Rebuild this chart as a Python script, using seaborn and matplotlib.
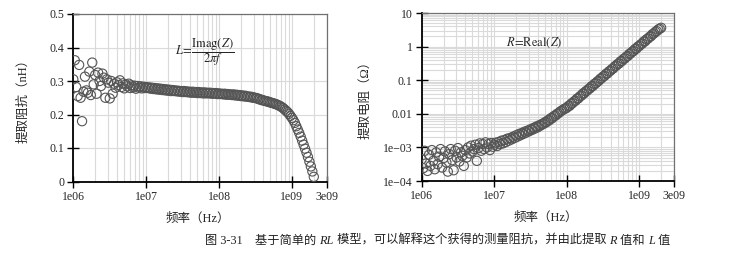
import numpy as np
import pandas as pd
import matplotlib
matplotlib.use('Agg')
import matplotlib.pyplot as plt
import seaborn as sns
from matplotlib.ticker import FixedLocator, FixedFormatter, LogLocator, NullFormatter

sns.set_style('white')
plt.rcParams['font.family'] = ['Liberation Serif', 'Noto Sans CJK SC']
plt.rcParams['mathtext.fontset'] = 'stix'

# ---- data ----
log_freq = [
    6.00, 6.02, 6.04, 6.06, 6.08, 6.10, 6.12, 6.14, 6.16, 6.18,
    6.20, 6.22, 6.24, 6.26, 6.28, 6.30, 6.32, 6.34, 6.36, 6.38,
    6.40, 6.42, 6.44, 6.46, 6.48, 6.50, 6.52, 6.54, 6.56, 6.58,
    6.60, 6.62, 6.64, 6.66, 6.68, 6.70, 6.72, 6.74, 6.76, 6.78,
    6.80, 6.82, 6.84, 6.86, 6.88, 6.90, 6.92, 6.94, 6.96, 6.98,
    7.00, 7.02, 7.04, 7.06, 7.08, 7.10, 7.12, 7.14, 7.16, 7.18,
    7.20, 7.22, 7.24, 7.26, 7.28, 7.30, 7.32, 7.34, 7.36, 7.38,
    7.40, 7.42, 7.44, 7.46, 7.48, 7.50, 7.52, 7.54, 7.56, 7.58,
    7.60, 7.62, 7.64, 7.66, 7.68, 7.70, 7.72, 7.74, 7.76, 7.78,
    7.80, 7.82, 7.84, 7.86, 7.88, 7.90, 7.92, 7.94, 7.96, 7.98,
    8.00, 8.02, 8.04, 8.06, 8.08, 8.10, 8.12, 8.14, 8.16, 8.18,
    8.20, 8.22, 8.24, 8.26, 8.28, 8.30, 8.32, 8.34, 8.36, 8.38,
    8.40, 8.42, 8.44, 8.46, 8.48, 8.50, 8.52, 8.54, 8.56, 8.58,
    8.60, 8.62, 8.64, 8.66, 8.68, 8.70, 8.72, 8.74, 8.76, 8.78,
    8.80, 8.82, 8.84, 8.86, 8.88, 8.90, 8.92, 8.94, 8.96, 8.98,
    9.00, 9.02, 9.04, 9.06, 9.08, 9.10, 9.12, 9.14, 9.16, 9.18,
    9.20, 9.22, 9.24, 9.26, 9.28, 9.30,
]

L_nH = [
    0.305, 0.362, 0.282, 0.255, 0.348, 0.250, 0.180, 0.268, 0.313, 0.272,
    0.265, 0.328, 0.258, 0.355, 0.290, 0.318, 0.262, 0.325, 0.300, 0.285,
    0.322, 0.310, 0.250, 0.305, 0.295, 0.248, 0.300, 0.262, 0.292, 0.280,
    0.296, 0.288, 0.302, 0.282, 0.293, 0.278, 0.290, 0.284, 0.292, 0.279,
    0.287, 0.281, 0.286, 0.277, 0.285, 0.280, 0.284, 0.278, 0.283, 0.279,
    0.282, 0.279, 0.281, 0.277, 0.280, 0.276, 0.279, 0.275, 0.278, 0.274,
    0.277, 0.273, 0.276, 0.272, 0.275, 0.271, 0.274, 0.270, 0.273, 0.270,
    0.272, 0.269, 0.271, 0.268, 0.270, 0.267, 0.270, 0.267, 0.269, 0.266,
    0.268, 0.265, 0.268, 0.265, 0.267, 0.264, 0.267, 0.264, 0.266, 0.263,
    0.266, 0.263, 0.265, 0.263, 0.265, 0.262, 0.264, 0.262, 0.264, 0.261,
    0.263, 0.261, 0.262, 0.260, 0.262, 0.259, 0.261, 0.259, 0.260, 0.258,
    0.260, 0.257, 0.259, 0.256, 0.258, 0.255, 0.257, 0.254, 0.256, 0.253,
    0.254, 0.252, 0.253, 0.250, 0.251, 0.249, 0.249, 0.246, 0.246, 0.243,
    0.243, 0.241, 0.240, 0.239, 0.238, 0.236, 0.235, 0.234, 0.232, 0.231,
    0.229, 0.227, 0.225, 0.222, 0.219, 0.215, 0.211, 0.207, 0.202, 0.196,
    0.190, 0.183, 0.175, 0.165, 0.155, 0.145, 0.134, 0.122, 0.110, 0.098,
    0.086, 0.073, 0.059, 0.045, 0.030, 0.014,
]

R_log10 = [
    -3.35, -3.62, -3.10, -3.48, -3.70, -3.22, -3.55, -3.08, -3.40, -3.65,
    -3.15, -3.50, -3.28, -3.05, -3.60, -3.32, -3.12, -3.45, -3.72, -3.20,
    -3.05, -3.38, -3.68, -3.10, -3.30, -3.02, -3.42, -3.15, -3.25, -3.55,
    -3.08, -3.30, -3.00, -3.18, -2.95, -3.12, -3.05, -2.92, -3.40, -3.02,
    -2.88, -3.10, -2.90, -3.05, -2.85, -3.00, -2.90, -3.08, -2.87, -2.98,
    -2.92, -2.86, -2.96, -2.84, -2.90, -2.80, -2.88, -2.78, -2.84, -2.74,
    -2.80, -2.72, -2.76, -2.68, -2.72, -2.64, -2.68, -2.60, -2.64, -2.57,
    -2.60, -2.53, -2.56, -2.50, -2.52, -2.46, -2.48, -2.42, -2.44, -2.38,
    -2.40, -2.34, -2.35, -2.30, -2.30, -2.25, -2.25, -2.19, -2.19, -2.13,
    -2.13, -2.07, -2.06, -2.01, -1.99, -1.95, -1.92, -1.89, -1.86, -1.84,
    -1.82, -1.77, -1.76, -1.70, -1.68, -1.63, -1.61, -1.55, -1.54, -1.48,
    -1.46, -1.40, -1.39, -1.33, -1.31, -1.26, -1.24, -1.18, -1.17, -1.11,
    -1.09, -1.04, -1.02, -0.96, -0.94, -0.89, -0.87, -0.81, -0.80, -0.74,
    -0.72, -0.67, -0.65, -0.59, -0.57, -0.52, -0.50, -0.44, -0.43, -0.37,
    -0.35, -0.30, -0.28, -0.22, -0.20, -0.15, -0.13, -0.07, -0.06, 0.00,
    0.02, 0.07, 0.09, 0.15, 0.16, 0.22, 0.24, 0.29, 0.31, 0.37,
    0.39, 0.44, 0.46, 0.51, 0.53, 0.56,
]

x_ticks = [1e6, 1e7, 1e8, 1e9, 3e9]
x_ticklabels = ['1e06', '1e07', '1e08', '1e09', '3e09']
L_ticks = [0, 0.1, 0.2, 0.3, 0.4, 0.5]
L_ticklabels = ['0', '0.1', '0.2', '0.3', '0.4', '0.5']
R_ticks = [1e-4, 1e-3, 1e-2, 0.1, 1, 10]
R_ticklabels = ['1e\u221204', '1e\u221203', '0.01', '0.1', '1', '10']

df = pd.DataFrame({
    'freq': 10 ** np.array(log_freq),
    'L': L_nH,
    'R': 10 ** np.array(R_log10),
})

W, H = 733, 257
fig = plt.figure(figsize=(W / 100, H / 100), dpi=100)

def px_axes(x0, y0, x1, y1):
    return fig.add_axes([x0 / W, 1 - y1 / H, (x1 - x0) / W, (y1 - y0) / H])

axL = px_axes(73.3, 14.0, 326.7, 181.5)
axR = px_axes(421.7, 13.0, 674.0, 181.0)

grid_c = '#dadada'
mk = dict(marker='o', s=44, facecolor='none', edgecolor='#555555', linewidth=0.8, legend=False, zorder=3)

sns.scatterplot(data=df, x='freq', y='L', ax=axL, **mk)
sns.scatterplot(data=df, x='freq', y='R', ax=axR, **mk)

for ax in (axL, axR):
    ax.set_xscale('log')
    ax.set_xlim(1e6, 3e9)
    ax.xaxis.set_major_locator(FixedLocator(x_ticks))
    ax.xaxis.set_major_formatter(FixedFormatter(x_ticklabels))
    ax.xaxis.set_minor_locator(LogLocator(base=10, subs=np.arange(2, 10), numticks=20))
    ax.xaxis.set_minor_formatter(NullFormatter())
    ax.set_axisbelow(True)
    ax.grid(True, which='both', axis='x', color=grid_c, linewidth=0.8)
    ax.tick_params(axis='both', which='major', direction='inout', length=9, width=1.0,
                   labelsize=8.5, pad=2, color='black', bottom=True, left=True,
                   top=False, right=False)
    ax.tick_params(axis='both', which='minor', length=0)
    for s in ('left', 'bottom'):
        ax.spines[s].set_color('black')
        ax.spines[s].set_linewidth(1.3)
    for s in ('top', 'right'):
        ax.spines[s].set_color('#707070')
        ax.spines[s].set_linewidth(0.9)
    ax.set_xlabel('频率（Hz）', fontsize=9)
    ax.xaxis.set_label_coords(0.49, -0.185)

axL.set_ylim(0, 0.5)
axL.yaxis.set_major_locator(FixedLocator(L_ticks))
axL.yaxis.set_major_formatter(FixedFormatter(L_ticklabels))
axL.grid(True, which='major', axis='y', color=grid_c, linewidth=0.8)
axL.set_ylabel('提取阻抗（nH）', fontsize=9)
axL.yaxis.set_label_coords(-0.175, 0.5)

axR.set_yscale('log')
axR.set_ylim(1e-4, 10)
axR.yaxis.set_major_locator(FixedLocator(R_ticks))
axR.yaxis.set_major_formatter(FixedFormatter(R_ticklabels))
axR.yaxis.set_minor_locator(LogLocator(base=10, subs=np.arange(2, 10), numticks=20))
axR.yaxis.set_minor_formatter(NullFormatter())
axR.grid(True, which='both', axis='y', color=grid_c, linewidth=0.8)
axR.set_ylabel('提取电阻（Ω）', fontsize=9)
axR.yaxis.set_label_coords(-0.20, 0.5)

axL.text(0.52, 0.775, r'$L\!=\!\dfrac{\mathrm{Imag}(Z)}{2\pi f}$', transform=axL.transAxes,
         ha='center', va='center', fontsize=9)
axR.text(0.445, 0.825, r'$R\!=\!\mathrm{Real}(Z)$', transform=axR.transAxes,
         ha='center', va='center', fontsize=9)

# caption with italic pieces
pieces = [('图 3-31　基于简单的 ', 'normal'), ('RL', 'italic'),
          (' 模型，可以解释这个获得的测量阻抗，并由此提取 ', 'normal'), ('R', 'italic'),
          (' 值和 ', 'normal'), ('L', 'italic'), (' 值', 'normal')]
fig.canvas.draw()
renderer = fig.canvas.get_renderer()
x = 205.0
for txt, style in pieces:
    t = fig.text(x / W, 1 - 241 / H, txt, fontsize=8.8, style=style, ha='left', va='center',
                 color='#222222')
    x += t.get_window_extent(renderer).width

fig.savefig('out.png', dpi=100)
